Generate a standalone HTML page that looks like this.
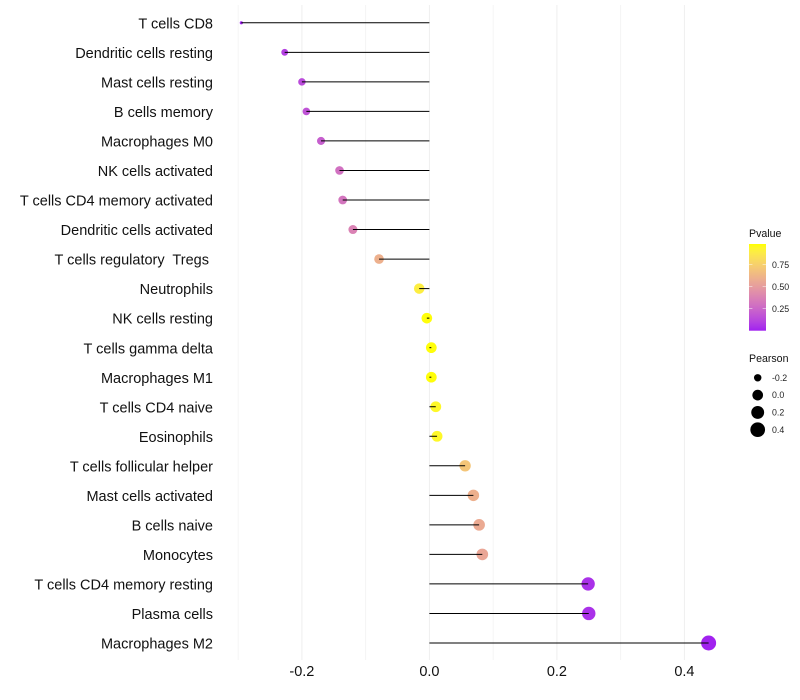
<!DOCTYPE html>
<html lang="en">
<head>
<meta charset="utf-8">
<title>Pearson lollipop chart</title>
<style>
html,body{margin:0;padding:0;background:#fff;}
#chart{display:block;width:800px;height:700px;font-family:"Liberation Sans",sans-serif;}
text{white-space:pre;}
</style>
</head>
<body>
<svg id="chart" xmlns="http://www.w3.org/2000/svg" width="800" height="700" viewBox="0 0 800 700"></svg>
<script>
const categories = ["T cells CD8","Dendritic cells resting","Mast cells resting","B cells memory","Macrophages M0","NK cells activated","T cells CD4 memory activated","Dendritic cells activated","T cells regulatory  Tregs ","Neutrophils","NK cells resting","T cells gamma delta","Macrophages M1","T cells CD4 naive","Eosinophils","T cells follicular helper","Mast cells activated","B cells naive","Monocytes","T cells CD4 memory resting","Plasma cells","Macrophages M2"];
const pearson = [-0.295,-0.227,-0.2,-0.193,-0.17,-0.141,-0.136,-0.12,-0.079,-0.016,-0.004,0.003,0.003,0.01,0.012,0.056,0.069,0.078,0.083,0.249,0.25,0.438];
const pvalue = [0.01,0.1,0.14,0.17,0.22,0.3,0.32,0.38,0.6,0.9,0.98,0.98,0.98,0.95,0.95,0.7,0.6,0.57,0.55,0.05,0.05,0.01];
const xMajorTicks = [-0.2,0,0.2,0.4];
const xMinorTicks = [-0.3,-0.1,0.1,0.3];
const xTickLabels = ["-0.2","0.0","0.2","0.4"];
const colorTicks = [0.25,0.5,0.75];
const colorTickLabels = ["0.25","0.50","0.75"];
const sizeLegendValues = [-0.2,0,0.2,0.4];
const sizeLegendLabels = ["-0.2","0.0","0.2","0.4"];

const NS = "http://www.w3.org/2000/svg";
const svg = document.getElementById("chart");
function mk(tag, attrs, parent){
  const e = document.createElementNS(NS, tag);
  for (const k in attrs) e.setAttribute(k, attrs[k]);
  (parent || svg).appendChild(e);
  return e;
}
const x = v => 429.4 + v * 637.5;
const y = i => 22.8 + i * (620.2 / 21);
const colorY = p => 330.7 - p * 88;

function lab2rgb(L,a,b){
  let fy=(L+16)/116, fx=fy+a/500, fz=fy-b/200;
  const f=t=>t>0.2069?t*t*t:(t-16/116)/7.787;
  const X=0.95047*f(fx),Y=f(fy),Z=1.08883*f(fz);
  const g=c=>{c=Math.max(0,Math.min(1,c));return Math.round(255*(c<=0.0031308?12.92*c:1.055*Math.pow(c,1/2.4)-0.055));};
  return "rgb("+g(3.2406*X-1.5372*Y-0.4986*Z)+","+g(-0.9689*X+1.8758*Y+0.0415*Z)+","+g(0.0557*X-0.2040*Y+1.0570*Z)+")";
}
function pColor(p){
  const t=(p-0.005)/(0.985-0.005), c=Math.max(0,Math.min(1,t));
  return lab2rgb(45.36+c*(97.14-45.36),78.75+c*(-21.55-78.75),-77.4+c*(94.48+77.4));
}
function radius(v){
  const t=Math.max(0,(v+0.295)/(0.438+0.295));
  return 1.6+5.9*Math.sqrt(t);
}

xMinorTicks.forEach(v=>{
  const l=mk("line",{x1:x(v),x2:x(v),y1:5,y2:660,stroke:"#f2f2f2","stroke-width":0.8});
  
  
});
xMajorTicks.forEach((v,i)=>{
  const l=mk("line",{x1:x(v),x2:x(v),y1:5,y2:660,stroke:"#eeeeee","stroke-width":1});
  
  
  const t=mk("text",{x:x(v),y:676,"text-anchor":"middle","font-size":14.5,fill:"#111"});
  t.textContent=xTickLabels[i];
  
  
});
categories.forEach((c,i)=>{
  const t=mk("text",{x:213,y:y(i)+5.6,"text-anchor":"end","font-size":14.5,fill:"#111"});
  t.textContent=c;
  
  
  const p=mk("circle",{cx:x(pearson[i]),cy:y(i),r:radius(pearson[i]),fill:pColor(pvalue[i])});
  
  
  const s=mk("line",{x1:x(0),x2:x(pearson[i]),y1:y(i),y2:y(i),stroke:"#000","stroke-width":1});
  
  
});

const defs=mk("defs",{});
const grad=mk("linearGradient",{id:"pv",x1:0,y1:1,x2:0,y2:0},defs);
for(let k=0;k<=20;k++){
  mk("stop",{offset:k/20,"stop-color":pColor(0.005+k/20*0.98)},grad);
}
const pTitle=mk("text",{x:749,y:237,"font-size":10.6,fill:"#111"});
pTitle.textContent="Pvalue";


const bar=mk("rect",{x:749,y:244,width:17,height:86.7,fill:"url(#pv)"});


colorTicks.forEach((v,i)=>{
  const a=mk("line",{x1:749,x2:752.4,y1:colorY(v),y2:colorY(v),stroke:"#fff","stroke-width":0.6,opacity:0.8});
  
  
  const b=mk("line",{x1:762.6,x2:766,y1:colorY(v),y2:colorY(v),stroke:"#fff","stroke-width":0.6,opacity:0.8});
  
  
  const t=mk("text",{x:772,y:colorY(v)+3.1,"font-size":8.8,fill:"#222"});
  t.textContent=colorTickLabels[i];
  
  
});
const sTitle=mk("text",{x:749,y:362,"font-size":10.6,fill:"#111"});
sTitle.textContent="Pearson";


sizeLegendValues.forEach((v,i)=>{
  const cy=377.8+i*17.3;
  const c=mk("circle",{cx:757.7,cy:cy,r:radius(v),fill:"#000"});
  
  
  const t=mk("text",{x:772,y:cy+3.1,"font-size":8.8,fill:"#222"});
  t.textContent=sizeLegendLabels[i];
  
  
});
</script>
</body>
</html>
